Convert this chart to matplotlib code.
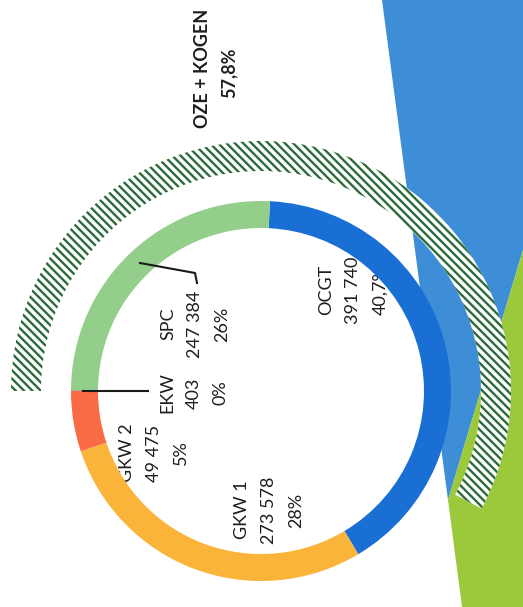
import matplotlib
matplotlib.use("Agg")
import matplotlib.pyplot as plt
from matplotlib.patches import Wedge, Polygon

# Generation by source
sources = ["OCGT", "GKW 1", "GKW 2", "EKW", "SPC"]
values = [391740, 273578, 49475, 403, 247384]
value_labels = ["391 740", "273 578", "49 475", "403", "247 384"]
pct_labels = ["40,7%", "28%", "5%", "0%", "26%"]
colors = ["#1a6fd4", "#fbb43a", "#fa6a44", "#555555", "#93cf8a"]

# Share of renewables + cogeneration
oze_label = "OZE + KOGEN"
oze_share = 57.8

plt.rcParams['font.family'] = ['Lato', 'DejaVu Sans']

fig = plt.figure(figsize=(5.23, 6.07), dpi=100)
ax = fig.add_axes([0, 0, 1, 1])

cx, cy = 261, 391
r_ring, w_ring = 190, 27

# donut, drawn clockwise from just right of the top (y axis is flipped)
ax.pie(values, colors=colors, startangle=-87.3, counterclock=True,
       center=(cx, cy), radius=r_ring,
       wedgeprops=dict(width=w_ring, linewidth=0))

# background shapes on the right
ax.add_patch(Polygon([(382, 0), (523, 0), (523, 250), (448, 500)],
                     closed=True, facecolor="#3d8ed6", edgecolor="none", zorder=0.2))
ax.add_patch(Polygon([(448, 500), (523, 250), (523, 607), (462, 607)],
                     closed=True, facecolor="#9cc93c", edgecolor="none", zorder=0.2))

# hatched arc for the OZE + KOGEN share, starting at the left and going clockwise
plt.rcParams['hatch.linewidth'] = 1.7
span = oze_share / 100 * 360
ax.add_patch(Wedge((cx, cy), 250, -180, -180 + span, width=30,
                   facecolor="white", edgecolor="#2d6a3a", hatch="\\\\\\\\",
                   linewidth=0, zorder=0.8))

# labels, rotated to read bottom to top, lines stacked left to right
label_pos = {"OCGT": (326, 290), "GKW 1": (242, 510), "GKW 2": (127, 453),
             "EKW": (167, 393), "SPC": (168, 324)}
pitch = 27
for name, val, pct in zip(sources, value_labels, pct_labels):
    x0, y0 = label_pos[name]
    for i, line in enumerate([name, val, pct]):
        ax.text(x0 + i * pitch, y0, line, rotation=90, ha="center", va="center",
                fontsize=13, color="#1e1e1e", zorder=0.9)

ax.text(203, 68, oze_label, rotation=90, ha="center", va="center",
        fontsize=13, fontweight="bold", color="#1e1e1e")
ax.text(229, 73, f"{oze_share:.1f}%".replace(".", ","), rotation=90,
        ha="center", va="center", fontsize=13, fontweight="bold", color="#1e1e1e")

# leader lines for EKW and SPC
ax.plot([83, 148], [391, 391], color="#1a1a1a", lw=1.5, zorder=2)
ax.plot([140, 195, 197], [263, 273, 283], color="#1a1a1a", lw=1.5, zorder=2)

ax.set_xlim(0, 523)
ax.set_ylim(607, 0)
ax.set_aspect("equal")
ax.axis("off")

fig.savefig("out.png", dpi=100)
